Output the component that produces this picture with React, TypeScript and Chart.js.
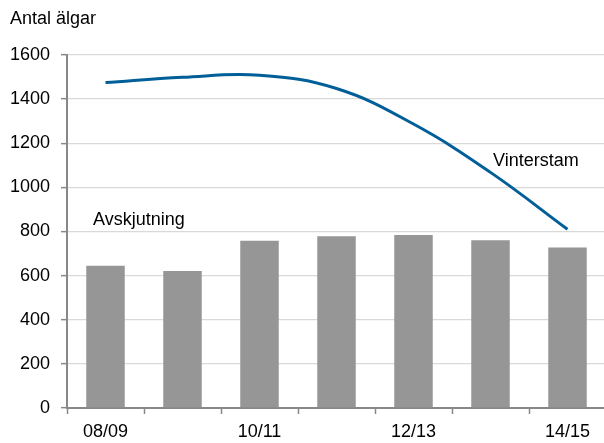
import React, { useEffect, useRef } from 'react';
import { Chart, registerables } from 'chart.js';

Chart.register(...registerables);

const categories = ['08/09', '09/10', '10/11', '11/12', '12/13', '13/14', '14/15'];
const xTickLabels = ['08/09', '', '10/11', '', '12/13', '', '14/15'];
const avskjutning = [645, 621, 758, 778, 784, 760, 728];
const vinterstam = [1475, 1499, 1508, 1448, 1287, 1068, 810];
const yTicks = [0, 200, 400, 600, 800, 1000, 1200, 1400, 1600];

const titleText = 'Antal älgar';
const barLabel = 'Avskjutning';
const lineLabel = 'Vinterstam';

const FONT = '"Liberation Sans", Arial, sans-serif';
const FS = 18;

const textPlugin = {
  id: 'texts',
  afterDraw(chart: any) {
    const ctx = chart.ctx;
    ctx.save();
    ctx.fillStyle = '#000';
    ctx.font = `${FS}px ${FONT}`;
    ctx.textAlign = 'left';
    ctx.textBaseline = 'alphabetic';
    ctx.fillText(titleText, 10, 24);
    ctx.fillText(barLabel, 93, 225);
    ctx.fillText(lineLabel, 493, 166);
    ctx.restore();
  },
};

export default function App() {
  const ref = useRef<HTMLCanvasElement>(null);
  useEffect(() => {
    document.body.style.margin = '0';
    const chart = new Chart(ref.current!, {
      type: 'bar',
      data: {
        labels: categories,
        datasets: [
          {
            type: 'line',
            label: lineLabel,
            data: vinterstam,
            borderColor: '#005f99',
            borderWidth: 3,
            pointRadius: 0,
            tension: 0.4,
            fill: false,
            order: 0,
          } as any,
          {
            type: 'bar',
            label: barLabel,
            data: avskjutning,
            backgroundColor: '#969696',
            borderWidth: 0,
            categoryPercentage: 1,
            barPercentage: 0.5,
            order: 1,
          },
        ],
      },
      options: {
        animation: false,
        responsive: false,
        maintainAspectRatio: false,
        layout: { padding: { top: 55, right: 1, left: 0, bottom: 0 } },
        plugins: {
          legend: { display: false },
          tooltip: { enabled: false },
          title: { display: false },
        },
        scales: {
          x: {
            grid: {
              offset: true,
              drawOnChartArea: false,
              drawTicks: true,
              tickLength: 6,
              tickColor: '#888',
              tickWidth: 1.5,
            },
            border: { color: '#888', width: 2 },
            ticks: {
              autoSkip: false,
              maxRotation: 0,
              padding: 7,
              color: '#000',
              font: { family: FONT, size: FS },
              callback: (_v: any, i: number) => xTickLabels[i],
            },
            afterFit: (s: any) => {
              s.height = 35;
            },
          },
          y: {
            min: 0,
            max: 1600,
            afterBuildTicks: (s: any) => {
              s.ticks = yTicks.map((v) => ({ value: v }));
            },
            grid: {
              color: '#d9d9d9',
              lineWidth: 1.3,
              tickLength: 6,
              tickColor: '#888',
              tickWidth: 1.5,
            },
            border: { color: '#888', width: 2 },
            ticks: {
              padding: 11,
              color: '#000',
              font: { family: FONT, size: FS },
              callback: (v: any) => String(v),
            },
            afterFit: (s: any) => {
              s.width = 67;
            },
          },
        },
      },
      plugins: [textPlugin],
    });
    return () => chart.destroy();
  }, []);
  return (
    <div style={{ width: 604, height: 443, overflow: 'hidden' }}>
      <canvas ref={ref} width={607} height={443} style={{ display: 'block' }} />
    </div>
  );
}
